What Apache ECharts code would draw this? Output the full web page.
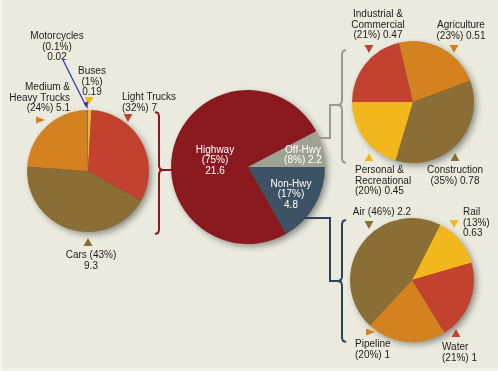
<!DOCTYPE html>
<html><head><meta charset="utf-8">
<script src="https://cdn.jsdelivr.net/npm/echarts@6/dist/echarts.min.js"></script>
<style>html,body{margin:0;padding:0;background:#eaebde}#c{width:498px;height:371px}</style>
</head><body><div id="c"></div>
<script>
// ---- Data ----
// Highway breakdown (left pie), clockwise from 12 o'clock
const hwyNames = ['Buses', 'Light Trucks', 'Cars', 'Medium &\nHeavy Trucks', 'Motorcycles'];
const hwyValues = [0.19, 7, 9.3, 5.1, 0.02];
const hwyPct = ['1%', '32%', '43%', '24%', '0.1%'];
// Total (center pie), clockwise from 3 o'clock
const totNames = ['Non-Hwy', 'Highway', 'Off-Hwy'];
const totValues = [4.8, 21.6, 2.2];
const totPct = ['17%', '75%', '8%'];
// Off-highway (top right pie)
const offNames = ['Industrial &\nCommercial', 'Agriculture', 'Construction', 'Personal &\nRecreational'];
const offValues = [0.47, 0.51, 0.78, 0.45];
const offPct = ['21%', '23%', '35%', '20%'];
// Non-highway (bottom right pie)
const nonNames = ['Rail', 'Water', 'Pipeline', 'Air'];
const nonValues = [0.63, 1, 1, 2.2];
const nonPct = ['13%', '21%', '20%', '46%'];

// ---- Styles ----
const RED = '#c3412f', OLIVE = '#8b6e36', ORANGE = '#d4821f', YELLOW = '#f2b71c', MOTO = '#7d6f8c';
const HWY = '#8a1a1f', OFF = '#9fa191', NON = '#3d5265';
const hwyColors = [YELLOW, RED, OLIVE, ORANGE, MOTO];
const totColors = [NON, HWY, OFF];
const offColors = [RED, ORANGE, OLIVE, YELLOW];
const nonColors = [YELLOW, RED, ORANGE, OLIVE];

const pies = [
  {names: hwyNames, values: hwyValues, colors: hwyColors, center: [88, 171], r: 61, start: 90},
  {names: totNames, values: totValues, colors: totColors, center: [248, 167], r: 77, start: 0},
  {names: offNames, values: offValues, colors: offColors, center: [413, 102], r: 61, start: 180},
  {names: nonNames, values: nonValues, colors: nonColors, center: [412, 280], r: 62, start: 63}
];

const FONT = '10px "Liberation Sans", Arial, sans-serif';
const LH = 10.5;
const graphics = [];

// left/bottom emboss frame
graphics.push({type: 'line', shape: {x1: 1, y1: 0, x2: 1, y2: 371}, style: {stroke: '#f4f5ec', lineWidth: 2}, z: 0});
graphics.push({type: 'line', shape: {x1: 5.5, y1: 0, x2: 5.5, y2: 368}, style: {stroke: '#f1f2e6', lineWidth: 1}, z: 0});
graphics.push({type: 'line', shape: {x1: 0, y1: 369.5, x2: 498, y2: 369.5}, style: {stroke: '#f4f5ec', lineWidth: 2}, z: 0});

// pie drop shadows
pies.forEach(p => graphics.push({
  type: 'circle', z: -10, silent: true,
  shape: {cx: p.center[0], cy: p.center[1], r: p.r - 1},
  style: {fill: '#6b5a40', shadowBlur: 7, shadowOffsetX: 3, shadowOffsetY: 3, shadowColor: 'rgba(0,0,0,0.45)'}
}));

function text(str, x, y, align, fill) {
  graphics.push({type: 'text', x: x, y: y, z: 20, style: {text: str, font: FONT, fill: fill || '#1c1c1c', align: align, verticalAlign: 'top', lineHeight: LH}});
}
function tri(x, y, dir, color) {
  const w = 4.5, h = 8;
  let pts;
  if (dir === 'down') pts = [[x - w, y], [x + w, y], [x, y + h]];
  else if (dir === 'up') pts = [[x - w, y + h], [x + w, y + h], [x, y]];
  else pts = [[x, y - w + 1], [x, y + w - 1], [x + 9, y]];
  graphics.push({type: 'polygon', z: 20, shape: {points: pts}, style: {fill: color}});
}

// ---- Labels: left pie ----
const f3 = (n, p, v) => n + '\n(' + p + ')\n' + v;
const f2 = (n, p, v) => n + '\n(' + p + ') ' + v;
text(f3(hwyNames[4], hwyPct[4], hwyValues[4]), 57, 31, 'center');
text(f3(hwyNames[0], hwyPct[0], hwyValues[0]), 92, 66, 'center');
tri(89, 97, 'down', YELLOW);
text(f2(hwyNames[3], hwyPct[3], hwyValues[3]), 70, 82, 'right');
tri(36, 120, 'right', ORANGE);
text(f2(hwyNames[1], hwyPct[1], hwyValues[1]), 122, 92, 'left');
tri(128, 114, 'down', RED);
text(hwyNames[2] + ' (' + hwyPct[2] + ')\n' + hwyValues[2], 91, 250, 'center');
tri(88, 238, 'up', OLIVE);
// motorcycle pointer
graphics.push({type: 'line', z: 20, shape: {x1: 62, y1: 58, x2: 86, y2: 106}, style: {stroke: '#3a32a8', lineWidth: 1.3}});
graphics.push({type: 'polygon', z: 20, shape: {points: [[83.5, 103], [88, 101.5], [87.5, 109]]}, style: {fill: '#3a32a8'}});

// ---- Labels: center pie ----
text(f3(totNames[1], totPct[1], totValues[1]), 215, 144.5, 'center', '#ffffff');
text(totNames[2] + '\n(' + totPct[2] + ') ' + totValues[2], 303, 144.5, 'center', '#ffffff');
text(f3(totNames[0], totPct[0], totValues[0]), 291, 178.5, 'center', '#ffffff');

// ---- Labels: off-highway ----
text(f2(offNames[0], offPct[0], offValues[0]), 378, 9, 'center');
tri(369, 45, 'down', RED);
text(f2(offNames[1], offPct[1], offValues[1]), 461, 20, 'center');
tri(454, 45, 'down', ORANGE);
text(f2(offNames[3], offPct[3], offValues[3]), 355, 165, 'left');
tri(369, 153, 'up', YELLOW);
text(f2(offNames[2], offPct[2], offValues[2]), 455, 165, 'center');
tri(455, 153, 'up', OLIVE);

// ---- Labels: non-highway ----
text(nonNames[3] + ' (' + nonPct[3] + ') ' + nonValues[3], 382, 207, 'center');
tri(369, 221, 'down', OLIVE);
text(f3(nonNames[0], nonPct[0], nonValues[0]), 463, 207, 'left');
tri(454, 220, 'down', YELLOW);
text(f2(nonNames[2], nonPct[2], nonValues[2]), 355, 339, 'left');
tri(366, 332, 'right', ORANGE);
text(f2(nonNames[1], nonPct[1], nonValues[1]), 442, 342, 'left');
tri(456, 329, 'up', RED);

// ---- Brackets & connectors ----
function pline(pts, color) {
  graphics.push({type: 'polyline', z: 5, shape: {points: pts}, style: {stroke: color, fill: null, lineWidth: 2}});
}
// curly brace: x = spine, y1..y2 ends, ym middle, d = direction of ends (-1 left, +1 right)
function brace(x, y1, y2, ym, d, color) {
  pline([[x + 4 * d, y1], [x + 1 * d, y1 + 1], [x, y1 + 4], [x, ym - 4], [x - 1 * d, ym - 1], [x - 4 * d, ym],
         [x - 1 * d, ym + 1], [x, ym + 4], [x, y2 - 4], [x + 1 * d, y2 - 1], [x + 4 * d, y2]], color);
}
brace(159, 112, 234, 170, -1, HWY);
pline([[162, 170], [174, 170]], HWY);
brace(342, 50, 163, 105, 1, '#9a9b8f');
pline([[338, 105], [330, 105], [330, 138], [318, 138]], '#9a9b8f');
brace(342, 220, 342, 281, 1, '#2e4357');
pline([[338, 281], [330, 281], [330, 218], [304, 218]], '#2e4357');

// ---- Series ----
const series = pies.map(p => ({
  type: 'pie', z: 2,
  center: p.center, radius: p.r, startAngle: p.start, clockwise: true,
  minAngle: 1, avoidLabelOverlap: false, silent: true,
  label: {show: false}, labelLine: {show: false},
  emphasis: {disabled: true},
  itemStyle: {borderWidth: 0},
  data: p.values.map((v, i) => ({name: p.names[i], value: v, itemStyle: {color: p.colors[i]}}))
}));

const chart = echarts.init(document.getElementById('c'), null, {renderer: 'canvas'});
chart.setOption({
  backgroundColor: '#eaebde',
  animation: false,
  series: series,
  graphic: {elements: graphics}
});
</script>
</body></html>
